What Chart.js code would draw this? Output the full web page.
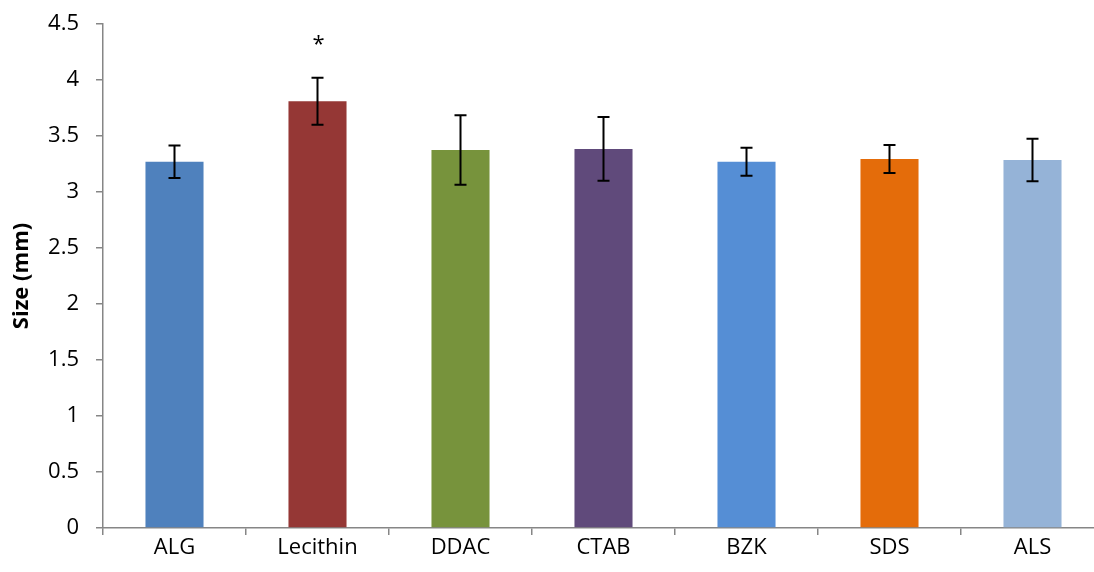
<!DOCTYPE html>
<html>
<head>
<meta charset="utf-8">
<script src="https://cdn.jsdelivr.net/npm/chart.js@4.4.1/dist/chart.umd.min.js"></script>
<style>
  html, body { margin: 0; padding: 0; background: #fff; overflow: hidden; }
  #wrap { width: 1110px; height: 572px; position: relative; }
</style>
</head>
<body>
<div id="wrap"><canvas id="chart"></canvas></div>
<script>
// data
const categories = ['ALG', 'Lecithin', 'DDAC', 'CTAB', 'BZK', 'SDS', 'ALS'];
const sizes = [3.27, 3.81, 3.375, 3.385, 3.27, 3.295, 3.285];
const errors = [0.145, 0.21, 0.31, 0.285, 0.125, 0.125, 0.19];
const marks = ['', '*', '', '', '', '', ''];
const barColors = ['#4F81BD', '#953735', '#77933C', '#604A7B', '#558ED5', '#E46C0A', '#95B3D7'];

const fontFamily = '"Open Sans", sans-serif';

// draws the error bars and the significance marks
const errorBars = {
  id: 'errorBars',
  afterDatasetsDraw(chart) {
    const ctx = chart.ctx;
    const y = chart.scales.y;
    const meta = chart.getDatasetMeta(0);
    ctx.save();
    ctx.strokeStyle = '#000';
    ctx.lineWidth = 2;
    meta.data.forEach((bar, i) => {
      const x = bar.x;
      const top = y.getPixelForValue(sizes[i] + errors[i]);
      const bot = y.getPixelForValue(sizes[i] - errors[i]);
      ctx.beginPath();
      ctx.moveTo(x, top); ctx.lineTo(x, bot);
      ctx.moveTo(x - 6, top); ctx.lineTo(x + 6, top);
      ctx.moveTo(x - 6, bot); ctx.lineTo(x + 6, bot);
      ctx.stroke();
      if (marks[i]) {
        ctx.fillStyle = '#000';
        ctx.font = '22px ' + fontFamily;
        ctx.textAlign = 'center';
        ctx.textBaseline = 'middle';
        ctx.fillText(marks[i], x + 1, top - 33);
      }
    });
    ctx.restore();
  }
};

new Chart(document.getElementById('chart'), {
  type: 'bar',
  data: {
    labels: categories,
    datasets: [{
      label: 'Size',
      data: sizes,
      backgroundColor: barColors,
      categoryPercentage: 1,
      barPercentage: 0.406
    }]
  },
  options: {
    responsive: true,
    maintainAspectRatio: false,
    animation: false,
    layout: { padding: { top: 24, right: 6, left: 0, bottom: 0 } },
    plugins: {
      legend: { display: false },
      tooltip: { enabled: false }
    },
    scales: {
      x: {
        grid: { display: true, drawOnChartArea: false, offset: true, tickLength: 7, color: '#868686', lineWidth: 1.5 },
        border: { color: '#868686', width: 1.5 },
        ticks: { color: '#000', font: { family: fontFamily, size: 22 }, padding: 0 },
        afterFit(scale) { scale.height = 44; }
      },
      y: {
        min: 0,
        max: 4.5,
        grid: { display: true, drawOnChartArea: false, tickLength: 7, color: '#868686', lineWidth: 1.5 },
        border: { color: '#868686', width: 1.5 },
        ticks: {
          stepSize: 0.5,
          color: '#000',
          font: { family: fontFamily, size: 22 },
          padding: 17,
          callback: v => String(v)
        },
        title: {
          display: true,
          text: 'Size (mm)',
          color: '#000',
          font: { family: fontFamily, size: 22, weight: 'bold' },
          padding: { top: 9, bottom: 0 }
        },
        afterFit(scale) {
          scale.width = 103;
          scale.paddingTop = 10;
          scale.paddingBottom = 10;
        }
      }
    }
  },
  plugins: [errorBars]
});
</script>
</body>
</html>
